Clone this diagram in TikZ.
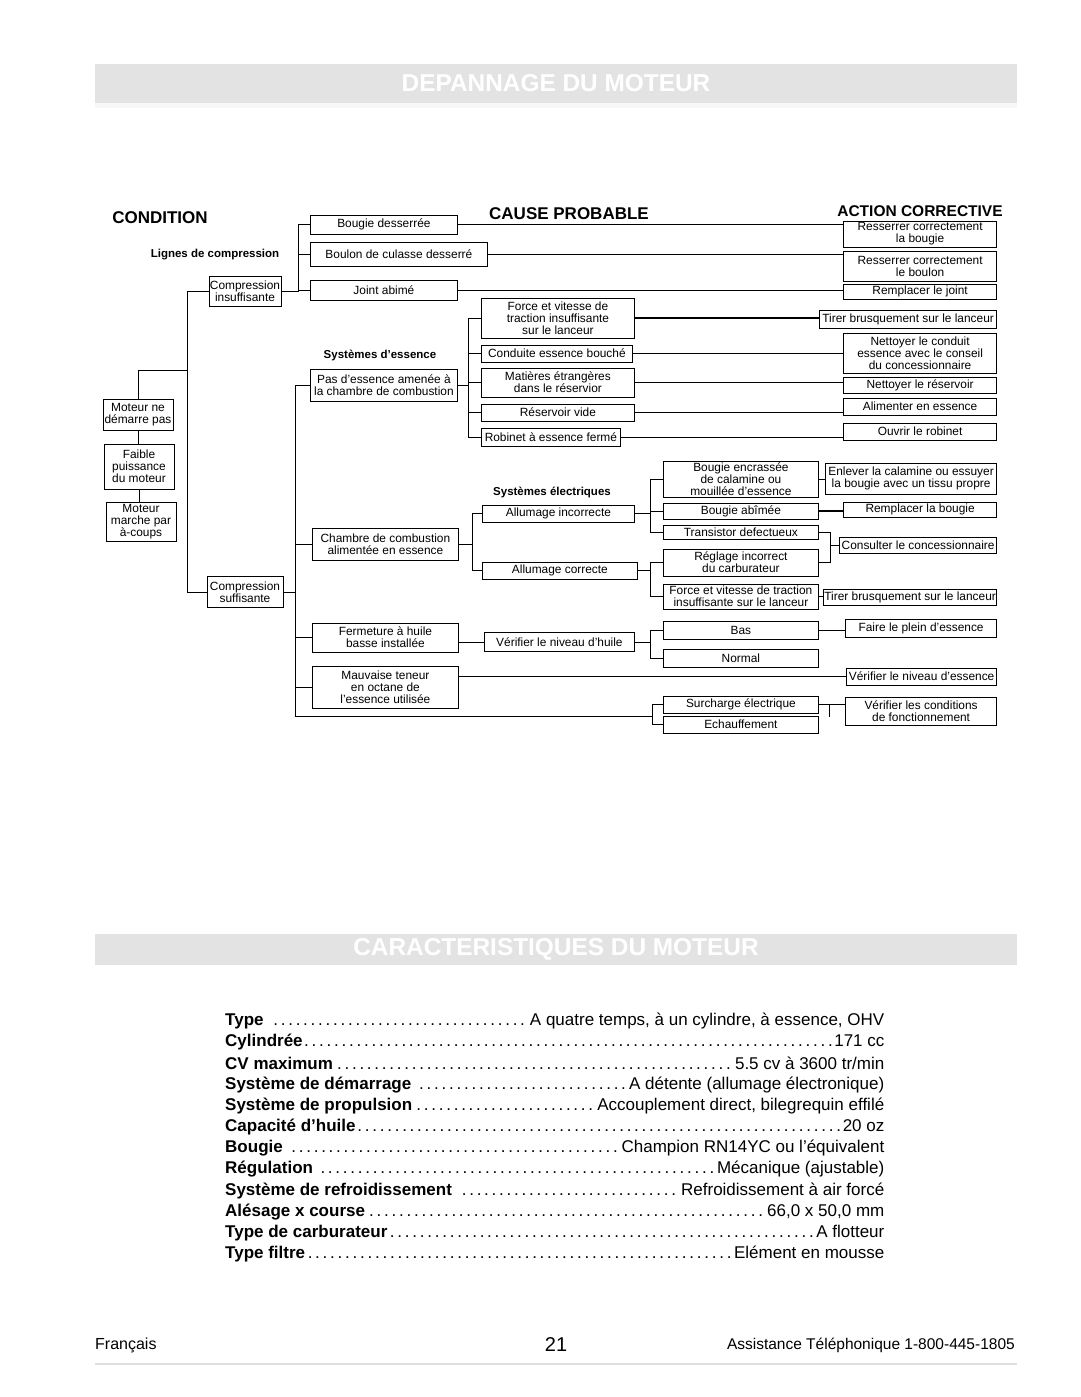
\documentclass[tikz,border=0pt]{standalone}
\usepackage{fontspec}
\setmainfont{Liberation Sans}
\usetikzlibrary{positioning}

\tikzset{
  box/.style={draw, line width=0.8pt, align=center, inner sep=0.5pt, font=\fontsize{11.9}{12}\selectfont},
  cond/.style={box, minimum width=70pt},
  cause/.style={box, anchor=west},
  act/.style={box, anchor=east},
  hd/.style={font=\fontsize{17}{17}\selectfont\bfseries},
  sub/.style={font=\fontsize{11.5}{12}\selectfont\bfseries},
  wire/.style={line width=0.8pt},
  thickwire/.style={line width=1.6pt},
  spec/.style={anchor=west, inner sep=0pt, font=\fontsize{17}{20}\selectfont},
  bar/.style={fill=black!11},
  bartext/.style={text=white, font=\fontsize{24.4}{26}\selectfont\bfseries},
  foot/.style={font=\fontsize{16}{18}\selectfont}
}

\begin{document}
\begin{tikzpicture}[x=1pt,y=-1pt]
  \useasboundingbox (0,0) rectangle (1080,1397);
  \fill[white] (0,0) rectangle (1080,1397);

  % title bars
  \fill[bar] (95,64) rectangle (1017,103);
  \fill[black!3] (95,103) rectangle (1017,108);
  \node[bartext] (title1) at (556,83.5) {DEPANNAGE DU MOTEUR};
  \fill[bar] (95,934) rectangle (1017,965);
  \node[bartext] (title2) at (556,949.5) {CARACTERISTIQUES DU MOTEUR};

  % column heads
  \node[hd] (hcond) at (160,218) {CONDITION};
  \node[hd] (hcause) at (569,214) {CAUSE PROBABLE};
  \node[hd, font=\fontsize{15.5}{16}\selectfont\bfseries] (hact) at (920,211) {ACTION CORRECTIVE};
  \node[sub] (lcomp) at (215,255) {Lignes de compression};
  \node[sub] (lfuel) at (380,355) {Systèmes d'essence};
  \node[sub] (lelec) at (552,492) {Systèmes électriques};

  % conditions
  \node[cond, minimum height=31pt] (mnd) at (138,414.5) {Moteur ne\\démarre pas};
  \node[cond, minimum height=45pt] (fpm) at (139,466.5) {Faible\\puissance\\du moteur};
  \node[cond, minimum height=39pt] (mmc) at (141,521.5) {Moteur\\marche par\\à-coups};
  \node[box, minimum width=72pt, minimum height=30pt] (ci) at (245,291) {Compression\\insuffisante};
  \node[box, minimum width=76pt, minimum height=31pt] (cs) at (245,592) {Compression\\suffisante};

  % compression causes
  \node[cause, minimum width=147pt, minimum height=19pt] (c1) at (310,224.5) {Bougie desserrée};
  \node[cause, minimum width=177pt, minimum height=24pt] (c2) at (310,254.5) {Boulon de culasse desserré};
  \node[cause, minimum width=147pt, minimum height=20pt] (c3) at (310,290) {Joint abimé};
  \node[act, minimum width=153pt, minimum height=26pt] (a1) at (997,234) {Resserrer correctement\\la bougie};
  \node[act, minimum width=153pt, minimum height=30pt] (a2) at (997,266.5) {Resserrer correctement\\le boulon};
  \node[act, minimum width=153pt, minimum height=15pt] (a3) at (997,291.5) {Remplacer le joint};

  % fuel system
  \node[cause, minimum width=147pt, minimum height=32pt] (pe) at (310,385) {Pas d'essence amenée à\\la chambre de combustion};
  \node[cause, minimum width=153pt, minimum height=40pt] (f1) at (481,318) {Force et vitesse de\\traction insuffisante\\sur le lanceur};
  \node[cause, minimum width=151pt, minimum height=17pt] (f2) at (481,353.5) {Conduite essence bouché};
  \node[cause, minimum width=153pt, minimum height=29pt] (f3) at (481,382.5) {Matières étrangères\\dans le réservior};
  \node[cause, minimum width=153pt, minimum height=17pt] (f4) at (481,412.5) {Réservoir vide};
  \node[cause, minimum width=139pt, minimum height=18pt] (f5) at (481,437) {Robinet à essence fermé};
  \node[act, minimum width=177pt, minimum height=18pt] (t1) at (997,319) {Tirer brusquement sur le lanceur};
  \node[act, minimum width=153pt, minimum height=40pt] (n1) at (997,353) {Nettoyer le conduit\\essence avec le conseil\\du concessionnaire};
  \node[act, minimum width=153pt, minimum height=16pt] (n2) at (997,385) {Nettoyer le réservoir};
  \node[act, minimum width=153pt, minimum height=17pt] (n3) at (997,406.5) {Alimenter en essence};
  \node[act, minimum width=153pt, minimum height=17pt] (n4) at (997,431.5) {Ouvrir le robinet};

  % electrical system
  \node[cause, minimum width=146pt, minimum height=32pt] (cc) at (312,544) {Chambre de combustion\\alimentée en essence};
  \node[cause, minimum width=152pt, minimum height=17pt] (e1) at (482,513.5) {Allumage incorrecte};
  \node[cause, minimum width=155pt, minimum height=17pt] (e2) at (482,570.5) {Allumage correcte};
  \node[cause, minimum width=155pt, minimum height=36pt] (g1) at (663,479) {Bougie encrassée\\de calamine ou\\mouillée d'essence};
  \node[cause, minimum width=155pt, minimum height=16pt] (g2) at (663,511) {Bougie abîmée};
  \node[cause, minimum width=155pt, minimum height=14pt] (g3) at (663,532) {Transistor defectueux};
  \node[cause, minimum width=155pt, minimum height=27pt] (g4) at (663,562.5) {Réglage incorrect\\du carburateur};
  \node[cause, minimum width=155pt, minimum height=25pt] (g5) at (663,596.5) {Force et vitesse de traction\\insuffisante sur le lanceur};
  \node[act, minimum width=171pt, minimum height=31pt] (en) at (997,478.5) {Enlever la calamine ou essuyer\\la bougie avec un tissu propre};
  \node[act, minimum width=153pt, minimum height=15pt] (rb) at (997,509.5) {Remplacer la bougie};
  \node[act, minimum width=157pt, minimum height=16pt] (co) at (997,545.5) {Consulter le concessionnaire};
  \node[act, minimum width=173pt, minimum height=16pt] (tb) at (997,597) {Tirer brusquement sur le lanceur};

  % oil and octane
  \node[cause, minimum width=146pt, minimum height=29pt] (fe) at (312,637.5) {Fermeture à huile\\basse installée};
  \node[cause, minimum width=150pt, minimum height=19pt] (vh) at (484,642) {Vérifier le niveau d'huile};
  \node[cause, minimum width=155pt, minimum height=18pt] (bas) at (663,630) {Bas};
  \node[cause, minimum width=155pt, minimum height=18pt] (nor) at (663,658) {Normal};
  \node[act, minimum width=151pt, minimum height=18pt] (fp) at (997,628) {Faire le plein d'essence};
  \node[cause, minimum width=146pt, minimum height=42pt] (mt) at (312,687) {Mauvaise teneur\\en octane de\\l'essence utilisée};
  \node[act, minimum width=150pt, minimum height=17pt] (vn) at (997,676.5) {Vérifier le niveau d'essence};
  \node[cause, minimum width=155pt, minimum height=17pt] (sc) at (663,704.5) {Surcharge électrique};
  \node[cause, minimum width=155pt, minimum height=17pt] (ec) at (663,724.5) {Echauffement};
  \node[act, minimum width=151pt, minimum height=28pt] (vc) at (997,711) {Vérifier les conditions\\de fonctionnement};

  % trunks
  \coordinate (tr1) at (187,0);
  \coordinate (tr2) at (298,0);
  \coordinate (tr3) at (295,0);
  \coordinate (tr4) at (468,0);
  \coordinate (tr5) at (472,0);
  \coordinate (tr6) at (650,0);
  \coordinate (tr9) at (652,0);
  \coordinate (br1) at (830,0);
  \coordinate (br2) at (829,0);
  \coordinate (j1) at (187,370);
  \coordinate (bot) at (295,716);

  % conditions
  \draw[wire] (ci.west) -- (ci.west -| tr1) -- (cs.west -| tr1) -- (cs.west);
  \draw[wire] (mnd.north) |- (j1);
  \draw[wire] (mnd.south) -- (mnd.south |- fpm.north);
  \draw[wire] (fpm.south) -- (fpm.south |- mmc.north);

  % compression
  \draw[wire] (c1.west) -| (ci.east -| tr2) -- (ci.east);
  \draw[wire] (c2.west) -- (c2.west -| tr2);
  \draw[wire] (c3.west) -- (c3.west -| tr2);
  \draw[wire] (c1.east) -- (c1.east -| a1.west);
  \draw[wire] (c2.east) -- (c2.east -| a2.west);
  \draw[wire] (c3.east) -- (c3.east -| a3.west);

  % sufficient compression
  \draw[wire] (pe.west) -| (bot) -- (bot -| tr9);
  \draw[wire] (cc.west) -- (cc.west -| tr3);
  \draw[wire] (cs.east) -- (cs.east -| tr3);
  \draw[wire] (fe.west) -- (fe.west -| tr3);
  \draw[wire] (mt.west) -- (mt.west -| tr3);

  % fuel
  \draw[wire] (pe.east) -- (pe.east -| tr4);
  \draw[wire] (f1.west) -| (f5.west -| tr4) -- (f5.west);
  \draw[wire] (f2.west) -- (f2.west -| tr4);
  \draw[wire] (f3.west) -- (f3.west -| tr4);
  \draw[wire] (f4.west) -- (f4.west -| tr4);
  \draw[thickwire] (f1.east) -- (f1.east -| t1.west);
  \draw[wire] (f2.east) -- (f2.east -| n1.west);
  \draw[wire] (f3.east) -- (f3.east -| n2.west);
  \draw[wire] (f4.east) -- (f4.east -| n3.west);
  \draw[wire] (f5.east) -- (f5.east -| n4.west);

  % electrical
  \draw[wire] (cc.east) -- (cc.east -| tr5);
  \draw[wire] (e1.west) -| (e2.west -| tr5) -- (e2.west);
  \draw[wire] (e1.east) -- (e1.east -| tr6);
  \draw[wire] (g1.west) -| (g3.west -| tr6) -- (g3.west);
  \draw[wire] (g2.west) -- (g2.west -| tr6);
  \draw[wire] (e2.east) -- (e2.east -| tr6);
  \draw[wire] (g4.west) -| (g5.west -| tr6) -- (g5.west);
  \draw[wire] (g1.east) -- (g1.east -| en.west);
  \draw[thickwire] (g2.east) -- (g2.east -| rb.west);
  \draw[wire] (g3.east) -| (g4.east -| br1) -- (g4.east);
  \draw[wire] (co.west -| br1) -- (co.west);
  \draw[wire] (g5.east) -- (g5.east -| tb.west);

  % oil, octane, overload
  \draw[wire] (vh.west -| fe.east) -- (vh.west);
  \draw[wire] (vh.east) -- (vh.east -| tr6);
  \draw[wire] (bas.west) -| (nor.west -| tr6) -- (nor.west);
  \draw[wire] (bas.east) -- (bas.east -| fp.west);
  \draw[wire] (vn.west -| mt.east) -- (vn.west);
  \draw[wire] (sc.west) -| (ec.west -| tr9) -- (ec.west);
  \draw[wire] (sc.east) -- (sc.east -| br2) -- ++(0,12);
  \draw[wire] (sc.east -| br2) -- (sc.east -| vc.west);

  % specifications
  \node[spec] (s1) at (225,1021) {\makebox[659pt]{\textbf{Type}\ \dotfill A quatre temps, à un cylindre, à essence, OHV}};
  \node[spec] (s2) at (225,1042.2) {\makebox[659pt]{\textbf{Cylindrée}\dotfill 171 cc}};
  \node[spec] (s3) at (225,1063.4) {\makebox[659pt]{\textbf{CV maximum}\dotfill 5.5 cv à 3600 tr/min}};
  \node[spec] (s4) at (225,1084.6) {\makebox[659pt]{\textbf{Système de démarrage}\ \dotfill A détente (allumage électronique)}};
  \node[spec] (s5) at (225,1105.8) {\makebox[659pt]{\textbf{Système de propulsion}\dotfill Accouplement direct, bilegrequin effilé}};
  \node[spec] (s6) at (225,1127) {\makebox[659pt]{\textbf{Capacité d’huile}\dotfill 20 oz}};
  \node[spec] (s7) at (225,1148.2) {\makebox[659pt]{\textbf{Bougie}\ \dotfill Champion RN14YC ou l’équivalent}};
  \node[spec] (s8) at (225,1169.4) {\makebox[659pt]{\textbf{Régulation}\ \dotfill Mécanique (ajustable)}};
  \node[spec] (s9) at (225,1190.6) {\makebox[659pt]{\textbf{Système de refroidissement}\ \dotfill Refroidissement à air forcé}};
  \node[spec] (s10) at (225,1211.8) {\makebox[659pt]{\textbf{Alésage x course}\dotfill 66,0 x 50,0 mm}};
  \node[spec] (s11) at (225,1233) {\makebox[659pt]{\textbf{Type de carburateur}\dotfill A flotteur}};
  \node[spec] (s12) at (225,1254.2) {\makebox[659pt]{\textbf{Type filtre}\dotfill Elément en mousse}};

  % footer
  \node[foot, anchor=west, inner sep=0pt] (lang) at (95,1345) {Français};
  \node[font=\fontsize{20}{22}\selectfont] (page) at (556,1345) {21};
  \node[foot, anchor=east, inner sep=0pt, font=\fontsize{15.5}{17}\selectfont] (help) at (1015,1345) {Assistance Téléphonique 1-800-445-1805};
  \draw[black!12, line width=2.5pt] (95,1364) -- (1017,1364);
\end{tikzpicture}
\end{document}
